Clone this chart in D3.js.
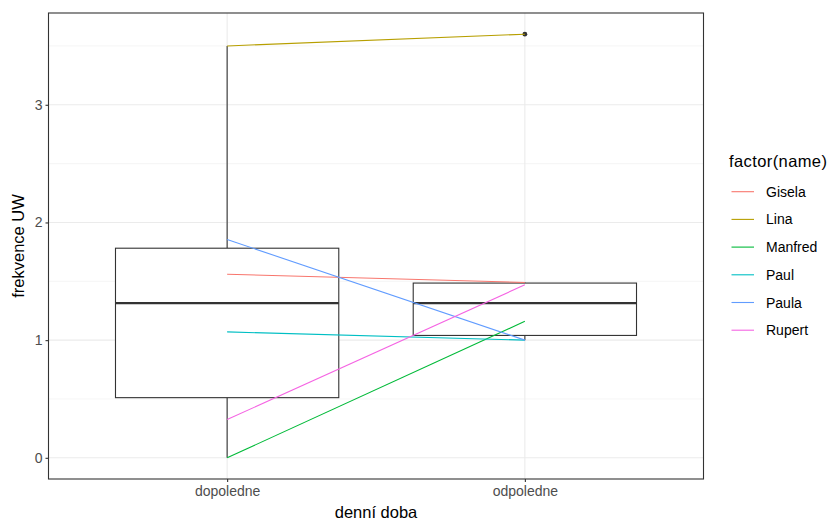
<!DOCTYPE html>
<html>
<head>
<meta charset="utf-8">
<script src="https://cdn.jsdelivr.net/npm/d3@7"></script>
<style>
  body { margin: 0; background: #fff; }
  svg { display: block; font-family: "Liberation Sans", Arial, sans-serif; }
</style>
</head>
<body>
<svg id="chart" width="833" height="522"></svg>
<script>
// Time of day categories and per-person UW frequency
const times = ["dopoledne", "odpoledne"];
const names = ["Gisela", "Lina", "Manfred", "Paul", "Paula", "Rupert"];
const dopoledne = [1.56, 3.50, 0.00, 1.07, 1.855, 0.325];
const odpoledne = [1.49, 3.60, 1.16, 1.00, 1.00, 1.47];
const colors = ["#F8766D", "#B79F00", "#00BA38", "#00BFC4", "#619CFF", "#F564E3"];
const yTicks = [0, 1, 2, 3];
const yMinor = [0.5, 1.5, 2.5, 3.5];

const svg = d3.select("#chart");
const panel = { left: 48.5, top: 13, right: 703.5, bottom: 479 };

const allVals = dopoledne.concat(odpoledne);
const ext = d3.extent(allVals);
const pad = (ext[1] - ext[0]) * 0.05;
const y = d3.scaleLinear().domain([ext[0] - pad, ext[1] + pad]).range([panel.bottom, panel.top]);
// discrete axis with 0.6 unit padding on each side
const xu = d3.scaleLinear().domain([0.4, 2.6]).range([panel.left, panel.right]);
const x = d => xu(times.indexOf(d) + 1);
const unit = xu(1) - xu(0);

// grid
const g = svg.append("g");
g.selectAll(".minor").data(yMinor).enter().append("line")
  .attr("x1", panel.left).attr("x2", panel.right)
  .attr("y1", d => y(d)).attr("y2", d => y(d))
  .attr("stroke", "#F2F2F2").attr("stroke-width", 0.8);
g.selectAll(".major").data(yTicks).enter().append("line")
  .attr("x1", panel.left).attr("x2", panel.right)
  .attr("y1", d => y(d)).attr("y2", d => y(d))
  .attr("stroke", "#EBEBEB").attr("stroke-width", 1.1);
g.selectAll(".vmajor").data(times).enter().append("line")
  .attr("x1", d => x(d)).attr("x2", d => x(d))
  .attr("y1", panel.top).attr("y2", panel.bottom)
  .attr("stroke", "#EBEBEB").attr("stroke-width", 1.1);

// boxplots
const series = { dopoledne, odpoledne };
const boxG = svg.append("g");
times.forEach(t => {
  const v = series[t].slice().sort(d3.ascending);
  const q1 = d3.quantile(v, 0.25), med = d3.quantile(v, 0.5), q3 = d3.quantile(v, 0.75);
  const iqr = q3 - q1;
  const inside = v.filter(d => d >= q1 - 1.5 * iqr && d <= q3 + 1.5 * iqr);
  const lo = d3.min(inside), hi = d3.max(inside);
  const outliers = v.filter(d => d < lo || d > hi);
  const cx = x(t), hw = unit * 0.75 / 2;
  const stroke = "#333333";
  boxG.append("line").attr("x1", cx).attr("x2", cx).attr("y1", y(q3)).attr("y2", y(hi))
    .attr("stroke", stroke).attr("stroke-width", 1.1);
  boxG.append("line").attr("x1", cx).attr("x2", cx).attr("y1", y(q1)).attr("y2", y(lo))
    .attr("stroke", stroke).attr("stroke-width", 1.1);
  boxG.append("rect").attr("x", cx - hw).attr("y", y(q3)).attr("width", hw * 2)
    .attr("height", y(q1) - y(q3)).attr("fill", "#fff").attr("stroke", stroke).attr("stroke-width", 1.1);
  boxG.append("line").attr("x1", cx - hw).attr("x2", cx + hw).attr("y1", y(med)).attr("y2", y(med))
    .attr("stroke", stroke).attr("stroke-width", 2.2);
  boxG.selectAll(null).data(outliers).enter().append("circle")
    .attr("cx", cx).attr("cy", d => y(d)).attr("r", 2.4).attr("fill", stroke);
});

// per-person lines
const lineGen = d3.line().x(d => x(d.t)).y(d => y(d.v));
svg.append("g").selectAll("path").data(names).enter().append("path")
  .attr("d", (n, i) => lineGen([{ t: "dopoledne", v: dopoledne[i] }, { t: "odpoledne", v: odpoledne[i] }]))
  .attr("fill", "none").attr("stroke", (n, i) => colors[i]).attr("stroke-width", 1.1);

// panel border
svg.append("rect").attr("x", panel.left).attr("y", panel.top)
  .attr("width", panel.right - panel.left).attr("height", panel.bottom - panel.top)
  .attr("fill", "none").attr("stroke", "#333333").attr("stroke-width", 1.1);

// axes
const yAxis = d3.axisLeft(y).tickValues(yTicks).tickSize(3).tickPadding(3).tickFormat(d3.format("d"));
const ya = svg.append("g").attr("transform", `translate(${panel.left},0)`).call(yAxis);
ya.select(".domain").remove();
ya.selectAll("line").attr("stroke", "#333333").attr("stroke-width", 1.1);
ya.selectAll("text").attr("fill", "#4D4D4D").attr("font-size", "14px");

const xb = d3.scalePoint().domain(times).range([x("dopoledne"), x("odpoledne")]);
const xAxis = d3.axisBottom(xb).tickSize(3).tickPadding(4);
const xa = svg.append("g").attr("transform", `translate(0,${panel.bottom})`).call(xAxis);
xa.select(".domain").remove();
xa.selectAll("line").attr("stroke", "#333333").attr("stroke-width", 1.1);
xa.selectAll("text").attr("fill", "#4D4D4D").attr("font-size", "14px");

// titles
svg.append("text").attr("x", (panel.left + panel.right) / 2).attr("y", 518)
  .attr("text-anchor", "middle").attr("font-size", "16.5px").attr("fill", "#000").text("denní doba");
svg.append("text").attr("transform", `translate(24,${(panel.top + panel.bottom) / 2}) rotate(-90)`)
  .attr("text-anchor", "middle").attr("font-size", "16.5px").attr("fill", "#000").text("frekvence UW");

// legend
const lg = svg.append("g").attr("transform", "translate(729,0)");
lg.append("text").attr("x", 0).attr("y", 167).attr("font-size", "16.5px")
  .attr("letter-spacing", "0.4px").attr("fill", "#000").text("factor(name)");
const items = lg.selectAll(".item").data(names).enter().append("g")
  .attr("transform", (d, i) => `translate(0,${191.7 + i * 27.7})`);
items.append("line").attr("x1", 2.5).attr("x2", 25).attr("y1", 0).attr("y2", 0)
  .attr("stroke", (d, i) => colors[i]).attr("stroke-width", 1.1);
items.append("text").attr("x", 37).attr("y", 0).attr("dy", "0.36em")
  .attr("font-size", "14px").attr("fill", "#000").text(d => d);
</script>
</body>
</html>
